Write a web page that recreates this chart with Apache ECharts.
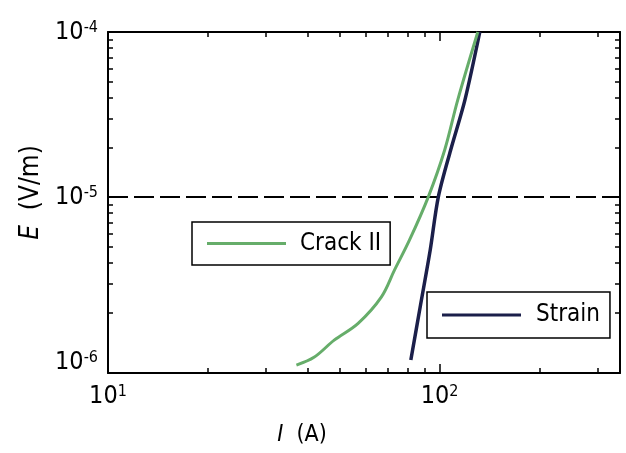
<!DOCTYPE html>
<html>
<head>
<meta charset="utf-8">
<script src="https://cdn.jsdelivr.net/npm/echarts@6/dist/echarts.min.js"></script>
<style>
  html, body { margin: 0; padding: 0; background: #fff; }
  #main { width: 626px; height: 453px; }
</style>
</head>
<body>
<div id="main"></div>
<script>
// Crack II curve (I in A, E in V/m)
var crackI = [37.0, 41.8, 48.1, 56.8, 66.7, 73.1, 81.1, 92.4, 103.6, 113.4, 130.4];
var crackE = [0.96e-6, 1.07e-6, 1.36e-6, 1.72e-6, 2.48e-6, 3.61e-6, 5.48e-6, 1.0e-5, 1.93e-5, 3.87e-5, 1.0e-4];
// Strain curve
var strainI = [81.9, 87.6, 93.7, 99.1, 108.0, 119.2, 132.2];
var strainE = [1.03e-6, 2.22e-6, 4.78e-6, 1.0e-5, 1.93e-5, 3.87e-5, 1.0e-4];
// criterion line E = 1e-5 V/m
var criterionI = [10, 350];
var criterionE = [1e-5, 1e-5];

// axes
var xMin = 10, xMax = 350;
var yMin = 8.6e-7, yMax = 1e-4;
var xLabels = [10, 100];
var yLabels = [1e-6, 1e-5, 1e-4];
var xMinorTicks = [20, 30, 40, 50, 60, 70, 80, 90, 200, 300];
var xMajorTicks = [100];
var yMinorTicks = [2e-6, 3e-6, 4e-6, 5e-6, 6e-6, 7e-6, 8e-6, 9e-6, 2e-5, 3e-5, 4e-5, 5e-5, 6e-5, 7e-5, 8e-5, 9e-5];
var yMajorTicks = [1e-5];

var F = "'Liberation Sans Narrow', 'DejaVu Sans Condensed', 'Liberation Sans', sans-serif";
var lg = function (arr) { return arr.map(function (v) { return Math.log10(v); }); };
function zip(a, b) { return a.map(function (v, i) { return [v, b[i]]; }); }

var supRich = {
  b: { fontSize: 25, fontFamily: F, color: '#000', lineHeight: 25, padding: [8, 0, 8, 0] },
  s: { fontSize: 16, fontFamily: F, color: '#000', lineHeight: 14, verticalAlign: 'top' }
};
function powLabel(v) { return '{b|10}{s|' + Math.round(v) + '}'; }

// tick-only value axes laid over the log axes (log10 space)
function tickAxis(dim, pos, ticks, len, withLine) {
  var isX = dim === 'x';
  return {
    type: 'value',
    position: pos,
    min: isX ? Math.log10(xMin) : Math.log10(yMin),
    max: isX ? Math.log10(xMax) : Math.log10(yMax),
    axisLine: { show: withLine, onZero: false, lineStyle: { color: '#000', width: 2 } },
    axisTick: { show: true, inside: true, length: len, customValues: lg(ticks), lineStyle: { color: '#000', width: 1.5 } },
    axisLabel: { show: false },
    splitLine: { show: false }
  };
}

var chart = echarts.init(document.getElementById('main'));

var xLabelAxis = tickAxis('x', 'bottom', xMinorTicks, 5, true);
xLabelAxis.axisLabel = { show: true, customValues: lg(xLabels), formatter: powLabel, margin: 11, rich: supRich };
xLabelAxis.name = '{i|I}{t|  (A)}';
xLabelAxis.nameLocation = 'middle';
xLabelAxis.nameGap = 51;
xLabelAxis.nameTextStyle = {
  fontSize: 23, fontFamily: F, color: '#000', padding: [0, 124, 0, 0],
  rich: {
    i: { fontSize: 23, fontFamily: F, fontStyle: 'italic', color: '#000' },
    t: { fontSize: 23, fontFamily: F, color: '#000' }
  }
};

var yLabelAxis = tickAxis('y', 'left', yMinorTicks, 5, true);
yLabelAxis.axisLabel = { show: true, customValues: lg(yLabels), formatter: powLabel, margin: 10, rich: supRich };
yLabelAxis.name = '{i|E}{t|  (V/m)}';
yLabelAxis.nameLocation = 'middle';
yLabelAxis.nameGap = 64;
yLabelAxis.nameTextStyle = {
  fontSize: 26, fontFamily: F, color: '#000', padding: [0, 0, 0, 20],
  rich: {
    i: { fontSize: 26, fontFamily: F, fontStyle: 'italic', color: '#000' },
    t: { fontSize: 26, fontFamily: F, color: '#000' }
  }
};

var option = {
  backgroundColor: '#fff',
  animation: false,
  grid: { left: 108, right: 6, top: 32, bottom: 80, outerBoundsMode: 'none' },
  legend: [
    {
      data: ['Crack II'], left: 192, top: 222, selectedMode: false,
      icon: 'rect', itemWidth: 79, itemHeight: 3,
      padding: [8, 9, 8, 15], borderColor: '#000', borderWidth: 1.5, borderRadius: 0,
      textStyle: { fontSize: 24, fontFamily: F, color: '#000', lineHeight: 27, padding: [0, 0, 0, 9] }
    },
    {
      data: ['Strain'], left: 427, top: 292, selectedMode: false,
      icon: 'rect', itemWidth: 79, itemHeight: 3,
      padding: [9, 10, 9, 15], borderColor: '#000', borderWidth: 1.5, borderRadius: 0,
      textStyle: { fontSize: 24, fontFamily: F, color: '#000', lineHeight: 28, padding: [0, 0, 0, 10] }
    }
  ],
  xAxis: [
    { type: 'log', logBase: 10, min: xMin, max: xMax, show: false },
    xLabelAxis,
    tickAxis('x', 'bottom', xMajorTicks, 9, false),
    tickAxis('x', 'top', xMinorTicks, 5, true),
    tickAxis('x', 'top', xMajorTicks, 9, false)
  ],
  yAxis: [
    { type: 'log', logBase: 10, min: yMin, max: yMax, show: false },
    yLabelAxis,
    tickAxis('y', 'left', yMajorTicks, 9, false),
    tickAxis('y', 'right', yMinorTicks, 5, true),
    tickAxis('y', 'right', yMajorTicks, 9, false)
  ],
  series: [
    {
      name: 'criterion',
      type: 'line',
      xAxisIndex: 0, yAxisIndex: 0,
      data: zip(criterionI, criterionE),
      showSymbol: false,
      silent: true,
      color: '#000',
      lineStyle: { color: '#000', width: 2, type: [20, 6] }
    },
    {
      name: 'Strain',
      type: 'line',
      xAxisIndex: 0, yAxisIndex: 0,
      data: zip(strainI, strainE),
      showSymbol: false,
      smooth: 0.3,
      color: '#1b1f4a',
      lineStyle: { color: '#1b1f4a', width: 3.5 }
    },
    {
      name: 'Crack II',
      type: 'line',
      xAxisIndex: 0, yAxisIndex: 0,
      data: zip(crackI, crackE),
      showSymbol: false,
      smooth: 0.35,
      color: '#66ad6a',
      lineStyle: { color: '#66ad6a', width: 3 }
    }
  ]
};

chart.setOption(option);
</script>
</body>
</html>
